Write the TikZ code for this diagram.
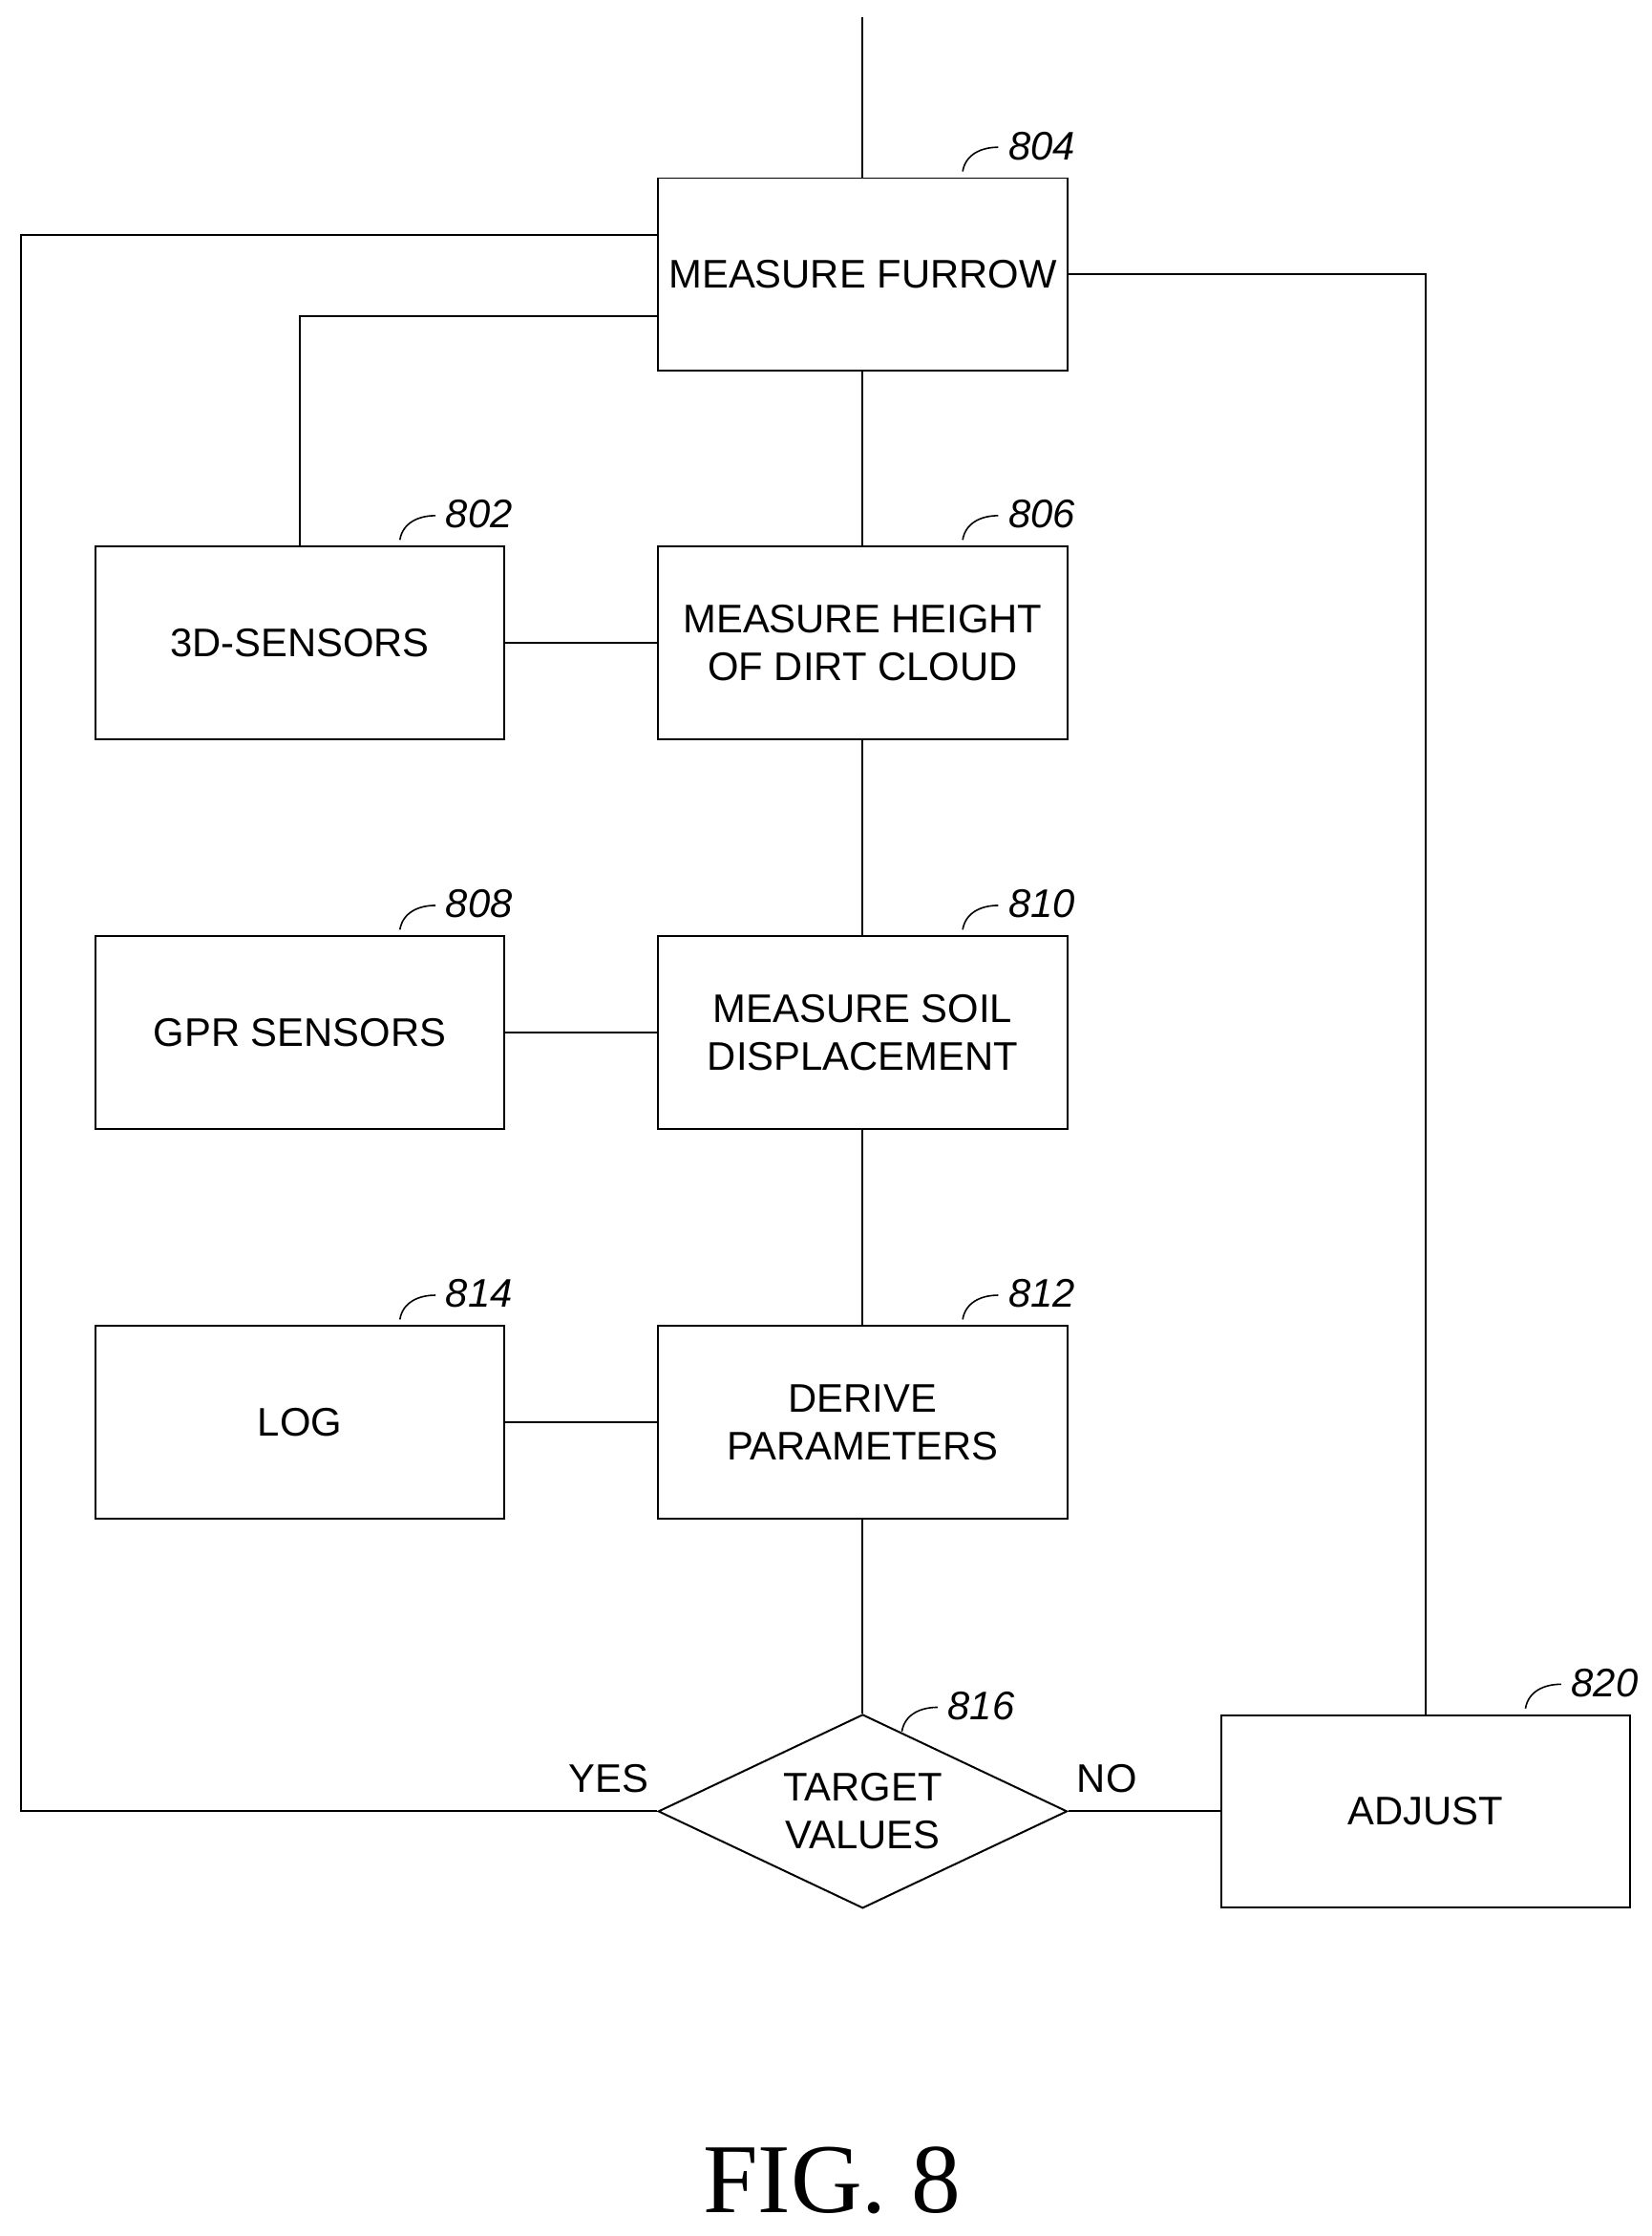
\documentclass[tikz,border=0pt]{standalone}
\usepackage{fontspec}
\setmainfont{Liberation Sans}
\newfontfamily\figfont{Liberation Serif}
\usetikzlibrary{shapes.geometric}

\tikzset{
  box/.style={draw, line width=1pt, minimum width=287*0.75pt, minimum height=135*0.75pt, inner sep=0pt, align=center, font=\fontsize{21}{25}\selectfont},
  ref/.style={font=\fontsize{21}{25}\selectfont\itshape, inner sep=0.75pt},
  lbl/.style={font=\fontsize{21}{25}\selectfont, inner sep=0.75pt},
}
\newcommand{\refmark}[3]{% squiggle and number at the upper right of a box
  \draw [line width=0.8pt] (#1) ++(-74,-4) .. controls ++(2,-12) and ++(-12,0) .. ++(25,-17) ;
  \draw (#1) ++(-43,-22) node [ref, anchor=west] (#2) {#3};
}

\begin{document}
\begin{tikzpicture}[x=0.75pt,y=0.75pt,yscale=-1]
\useasboundingbox (0,0) rectangle (1159,1569);

% Boxes
\node [box] (furrow) at (605.5,192.5) {MEASURE FURROW};
\node [box] (height) at (605.5,451) {MEASURE HEIGHT\\OF DIRT CLOUD};
\node [box] (sens3d) at (210.5,451) {3D-SENSORS};
\node [box] (soil) at (605.5,724.5) {MEASURE SOIL\\DISPLACEMENT};
\node [box] (gpr) at (210.5,724.5) {GPR SENSORS};
\node [box] (derive) at (605.5,998) {DERIVE\\PARAMETERS};
\node [box] (log) at (210.5,998) {LOG};
\node [box, diamond, aspect=2.1, minimum width=287*0.75pt, minimum height=136*0.75pt] (target) at (605.5,1271) {TARGET\\VALUES};
\node [box] (adjust) at (1000.5,1271) {ADJUST};
\coordinate (start) at (605.5,12);
\coordinate (tcorner) at (707,1219);

% Connectors
\draw [line width=1pt] (start) -- (furrow.north);
\draw [line width=1pt] (furrow) -- (height) -- (soil) -- (derive) -- (target);
\draw [line width=1pt] (sens3d) -- (height);
\draw [line width=1pt] (gpr) -- (soil);
\draw [line width=1pt] (log) -- (derive);
\draw [line width=1pt] (sens3d.north) |- (furrow.west |- 0,222);
\draw [line width=1pt] (furrow.west |- 0,165) -| (15,1271) -- (target.west);
\draw [line width=1pt] (target.east) -- (adjust.west);
\draw [line width=1pt] (adjust.north) |- (furrow.east);

% Labels
\node [lbl] (yes) at (427,1248) {YES};
\node [lbl] (no) at (777,1248) {NO};
\refmark{furrow.north east}{r804}{804}
\refmark{height.north east}{r806}{806}
\refmark{sens3d.north east}{r802}{802}
\refmark{soil.north east}{r810}{810}
\refmark{gpr.north east}{r808}{808}
\refmark{derive.north east}{r812}{812}
\refmark{log.north east}{r814}{814}
\refmark{adjust.north east}{r820}{820}
\refmark{tcorner}{r816}{816}
\node [font=\figfont\fontsize{52}{60}\selectfont] (fig) at (584,1530) {FIG. 8};
\end{tikzpicture}
\end{document}
